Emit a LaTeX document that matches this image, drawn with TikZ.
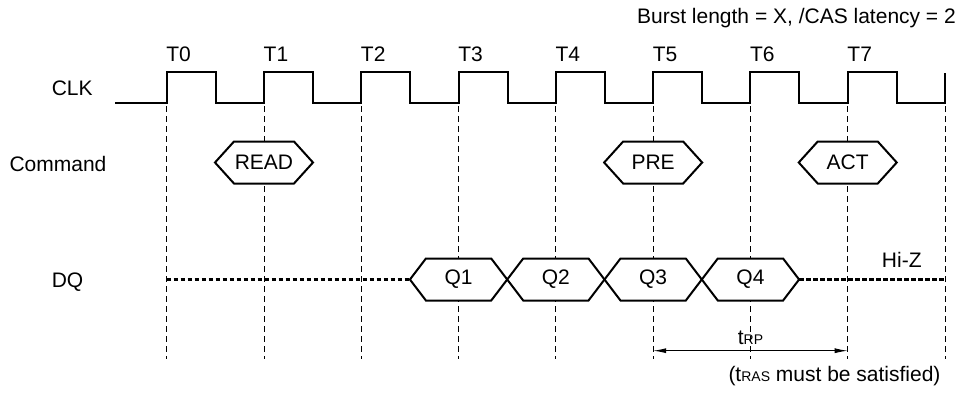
\documentclass[tikz,border=0pt]{standalone}
\usepackage{fontspec}
\setmainfont{Liberation Sans}
\usetikzlibrary{arrows.meta}
\newcommand\hexshape[4]{%
  \filldraw[sig, fill=white] (#1) ++(-#2,0) -- ++(#3,-#4) -- ++({2*#2-2*#3},0) -- ++(#3,#4)
    -- ++(-#3,#4) -- ++({-2*#2+2*#3},0) -- cycle;}
\begin{document}
\begin{tikzpicture}[x=1pt,y=-1pt,
  font=\fontsize{21}{25}\selectfont,
  sig/.style={line width=2pt, line join=miter},
  gridline/.style={line width=0.9pt, dash pattern=on 6pt off 4pt},
  hiz/.style={line width=2.2pt, dash pattern=on 4.5pt off 2.5pt},
  lbl/.style={anchor=base, inner sep=0pt},
  tlbl/.style={anchor=base west, inner sep=0pt},
  box/.style={inner sep=0pt}]
\useasboundingbox (0,0) rectangle (963,397);

% clock edges and grid lines
\foreach \k in {0,...,8}{
  \coordinate (top\k) at ({166.7+97.29*\k},106);
  \coordinate (bot\k) at ({166.7+97.29*\k},359);
  \draw[gridline] (top\k) -- (bot\k);
}
\foreach \k in {0,...,7}{
  \node[tlbl] (t\k) at ({166.2+97.29*\k},61.7) {T\k};
}

% clock waveform
\draw[sig] (115,103) foreach \k in {0,...,7} { -- ({166.7+97.29*\k},103) -- ++(0,-30.6) -- ++(49,0) -- ++(0,30.6) } -- (945.02,103) -- (945.02,72.7);

% row labels
\node[lbl] (clk) at (72.2,95) {CLK};
\node[lbl] (cmd) at (58,171.7) {Command};
\node[lbl] (dq) at (67.5,287.5) {DQ};
\node[anchor=base east, inner sep=0pt] (burst) at (956,23.3) {Burst length = X, /CAS latency = 2};
\node[lbl] (hiz) at (901.8,267.7) {Hi-Z};

% commands
\coordinate (readc) at (263.99,162.5);
\coordinate (prec) at (653.15,162.5);
\coordinate (actc) at (847.73,162.5);
\hexshape{readc}{49}{19}{21}
\hexshape{prec}{49}{19}{21}
\hexshape{actc}{49}{19}{21}
\node[box] (read) at (readc) {READ};
\node[box] (pre) at (prec) {PRE};
\node[box] (act) at (actc) {ACT};

% data
\coordinate (dqa) at (166.7,279.5);
\coordinate (dqb) at (409.92,279.5);
\coordinate (dqc) at (799.09,279.5);
\coordinate (dqd) at (945.02,279.5);
\draw[hiz] (dqa) -- (dqb);
\draw[hiz] (dqc) -- (dqd);
\coordinate (q1c) at (458.57,279.5);
\coordinate (q2c) at (555.86,279.5);
\coordinate (q3c) at (653.15,279.5);
\coordinate (q4c) at (750.44,279.5);
\foreach \q in {q1c,q2c,q3c,q4c}{\hexshape{\q}{48.65}{16}{21}}
\node[box] (q1) at (q1c) {Q1};
\node[box] (q2) at (q2c) {Q2};
\node[box] (q3) at (q3c) {Q3};
\node[box] (q4) at (q4c) {Q4};

% tRP
\coordinate (rp1) at (653.15,350.7);
\coordinate (rp2) at (847.73,350.7);
\draw[line width=1pt, {Latex[length=13pt,width=5pt]}-{Latex[length=13pt,width=5pt]}] (rp1) -- (rp2);
\node[lbl] (trp) at (750.5,344) {t{\fontsize{14}{16}\selectfont RP}};
\node[lbl] (tras) at (834.5,381) {(t{\fontsize{14}{16}\selectfont RAS} must be satisfied)};
\end{tikzpicture}
\end{document}
